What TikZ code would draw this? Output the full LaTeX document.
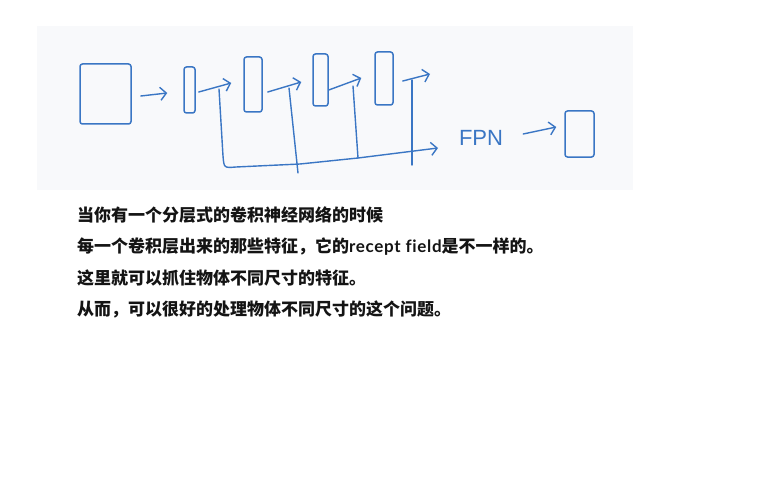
\documentclass[tikz,border=0pt]{standalone}
\usepackage{fontspec}
\newfontfamily\cjk{Noto Sans CJK SC}
\newfontfamily\hand{Liberation Sans}
\newfontfamily\latn[Ligatures=NoCommon,LetterSpace=4]{Lato}
\usetikzlibrary{arrows.meta}
\definecolor{ink}{RGB}{58,118,196}
\definecolor{panel}{RGB}{248,249,251}
\definecolor{txt}{RGB}{20,20,20}
\begin{document}
\begin{tikzpicture}[x=1pt,y=-1pt,
  box/.style={draw=ink,line width=1.5pt,rounded corners=2.5pt,inner sep=0pt},
  conn/.style={draw=ink,line width=1.4pt,line cap=round,line join=round},
  arr/.style={conn,-{Straight Barb[length=6pt,width=13pt]}},
  line/.style={anchor=base west,inner sep=0pt,text=txt,font=\cjk\bfseries\fontsize{17}{17}\selectfont}]
\useasboundingbox (0,0) rectangle (776,492);
\fill[white] (0,0) rectangle (776,492);
\fill[panel] (37,26) rectangle (633,190);
% boxes
\node[box,minimum width=51pt,minimum height=60pt] (big) at (105.5,94) {};
\node[box,minimum width=11pt,minimum height=46pt] (b2) at (189.5,90) {};
\node[box,minimum width=18pt,minimum height=55pt] (b3) at (253,84.5) {};
\node[box,minimum width=15pt,minimum height=52pt] (b4) at (320.5,80) {};
\node[box,minimum width=18pt,minimum height=53pt] (b5) at (384,78.5) {};
\node[box,minimum width=29pt,minimum height=46pt] (b6) at (579.5,134) {};
\node[text=ink,inner sep=0pt,font=\hand\fontsize{22}{22}\selectfont] (fpn) at (481,138) {FPN};
% chain arrows
\draw[arr] ([xshift=9pt,yshift=-2pt]big.east) -- ([xshift=-16pt,yshift=-3pt]b2.west);
\draw[arr] ([xshift=3pt,yshift=-2pt]b2.east) -- ([xshift=-12pt,yshift=1.5pt]b3.west);
\draw[arr] ([xshift=5pt,yshift=-7.5pt]b3.east) -- ([xshift=-11pt,yshift=-2pt]b4.west);
\draw[arr] ([xshift=0pt,yshift=-10pt]b4.east) -- ([xshift=-13pt,yshift=0.5pt]b5.west);
\coordinate (t5) at (430,74);
\draw[arr] ([xshift=9pt,yshift=-2.5pt]b5.east) -- (t5);
\draw[arr] ([xshift=20pt,yshift=4pt]fpn.east) -- ([xshift=-8pt,yshift=7pt]b6.west);
% lateral lines
\coordinate (f2) at (219,89);
\coordinate (f3) at (289,88);
\coordinate (f4) at (353,86);
\coordinate (f5) at (412,80);
\coordinate (g3) at (298,173);
\coordinate (g4) at (358,158);
\coordinate (g5) at (412,165);
\coordinate (busend) at (438,148);
\draw[arr] (f2) -- (223,156) .. controls (224,168) .. (236,167) -- (300,164) -- (g4) -- (busend);
\draw[conn] (f3) -- (g3);
\draw[conn] (f4) -- (g4);
\draw[conn] (f5) -- (g5);
% text
\node[line] (l1) at (77,221.5) {当你有一个分层式的卷积神经网络的时候};
\node[line] (l2) at (77,252.5) {每一个卷积层出来的那些特征，它的{\latn\bfseries recept field}是不一样的。};
\node[line] (l3) at (77,284) {这里就可以抓住物体不同尺寸的特征。};
\node[line] (l4) at (77,315.5) {从而，可以很好的处理物体不同尺寸的这个问题。};
\end{tikzpicture}
\end{document}
